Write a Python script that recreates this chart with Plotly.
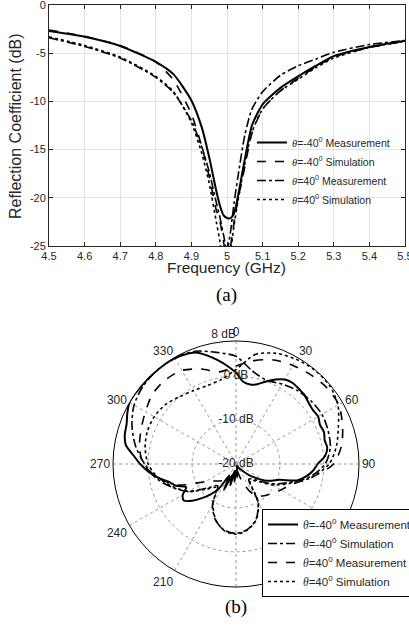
import plotly.graph_objects as go

# ---------------- data: (a) reflection coefficient ----------------
freq_ghz = [4.5, 4.6, 4.7, 4.8, 4.85, 4.9, 4.93, 4.95, 4.97, 4.98, 4.99, 5.0,
            5.01, 5.02, 5.03, 5.05, 5.07, 5.1, 5.15, 5.2, 5.25, 5.3, 5.4, 5.5]
s11_m40_meas = [-2.7, -3.3, -4.25, -5.9, -7.2, -9.9, -12.8, -15.8, -19.3, -20.8, -21.8, -22.1,
                -22.1, -21.6, -20.0, -16.0, -12.5, -10.3, -8.6, -7.4, -6.3, -5.3, -4.35, -3.7]
s11_m40_sim = [-2.6, -3.25, -4.2, -5.9, -7.8, -11.3, -14.8, -17.8, -21.3, -22.4, -24.5, -26.5,
               -25.0, -22.5, -20.3, -16.8, -13.3, -10.8, -8.9, -7.6, -6.4, -5.4, -4.4, -3.75]
s11_p40_meas = [-3.4, -4.3, -5.5, -7.5, -9.1, -12.0, -14.8, -17.3, -20.5, -22.0, -23.8, -25.5,
                -23.5, -20.5, -18.0, -13.5, -10.8, -9.0, -7.3, -6.3, -5.6, -4.9, -4.1, -3.7]
s11_p40_sim = [-3.3, -4.2, -5.4, -7.4, -9.0, -12.2, -15.5, -18.5, -22.5, -24.5, -27.0, -27.0,
               -25.5, -22.8, -20.5, -16.5, -13.2, -10.8, -8.9, -7.7, -6.5, -5.5, -4.4, -3.75]
x_ticks = [4.5, 4.6, 4.7, 4.8, 4.9, 5.0, 5.1, 5.2, 5.3, 5.4, 5.5]
x_ticklabels = ["4.5", "4.6", "4.7", "4.8", "4.9", "5", "5.1", "5.2", "5.3", "5.4", "5.5"]
y_ticks = [-25, -20, -15, -10, -5, 0]
y_ticklabels = ["-25", "-20", "-15", "-10", "-5", "0"]

# ---------------- data: (b) radiation pattern ----------------
theta_5 = list(range(0, 365, 5))
pat_m40_meas = [0.8, -1.2, -1.6, -1.2, 0.0, 1.2, 2.2, 2.5, 2.3, 2.1, 1.6, 1.4, 1.6, 1.1, 1.3, 0.9,
                1.1, 0.3, -1.4, -2.4, -3.8, -5.6, -9.5, -11.0, -12.5, -14.5, -16.0, -17.5, -18.5,
                -19.0, -19.5, -19.5, -19.5, -19.0, -18.5, -17.0, -18.5, -16.0, -18.0, -15.0, -17.0,
                -13.5, -17.0, -13.0, -11.0, -9.0, -7.0, -5.5, -6.0, -7.5, -5.5, -4.2, -2.0, 0.0,
                1.8, 3.5, 5.5, 6.2, 6.5, 7.3, 8.0, 8.0, 7.9, 7.9, 7.9, 7.9, 7.8, 7.5, 7.0, 5.6,
                4.0, 2.4, 0.8]
theta_10 = list(range(0, 370, 10))
pat_m40_sim = [4.5, 1.5, 0.3, 1.0, 1.8, 2.3, 2.6, 2.3, 1.8, 0.3, -3.0, -7.5, -11.0, -14.5, -15.5,
               -10.0, -6.6, -4.9, -4.2, -4.7, -6.4, -9.3, -13.5, -11.5, -7.5, -4.5, -1.5, 0.8,
               3.2, 5.2, 6.8, 7.6, 7.9, 7.9, 7.3, 5.8, 4.5]
pat_p40_meas = [2.3, 3.9, 5.2, 5.9, 6.5, 7.0, 7.0, 5.8, 4.4, 2.2, -2.5, -6.5, -8.2, -9.5, -10.5,
                -12.0, -15.5, -18.5, -19.5, -18.5, -17.0, -16.0, -15.0, -14.0, -12.0, -6.0, -2.0,
                1.1, 2.3, 3.0, 3.8, 4.8, 5.0, 4.6, 3.0, 1.3, 2.3]
pat_p40_sim = [1.5, 5.3, 6.8, 7.5, 7.9, 7.8, 6.8, 4.8, 3.2, 1.2, -2.5, -7.0, -10.5, -14.0, -15.0,
               -9.8, -6.5, -4.8, -4.0, -4.6, -6.5, -9.5, -13.0, -11.0, -7.5, -4.8, -2.0, 0.0,
               1.0, 1.5, 1.5, 1.0, 0.0, -0.7, -1.0, -0.5, 1.5]
ang_ticks = list(range(0, 360, 30))
ang_ticklabels = ["0", "30", "60", "90", "120", "150", "", "210", "240", "270", "300", "330"]
r_ticks = [-20, -10, 0, 8]
r_ticklabels = ["-20 dB", "-10 dB", "0 dB", "8 dB"]

TH = '<i><span style="font-family:Liberation Serif">θ</span></i>'
names_a = [TH + "=-40<sup>0</sup> Measurement", TH + "=-40<sup>0</sup> Simulation",
           TH + "=40<sup>0</sup> Measurement", TH + "=40<sup>0</sup> Simulation"]

W, H = 409, 627
SANS = "Liberation Sans, Arial, sans-serif"
TXT = "#262626"
SERIF = "Liberation Serif, Times New Roman, serif"

fig = go.Figure()

series_a = [(s11_m40_meas, "solid", 2.0), (s11_m40_sim, "dash", 1.6),
            (s11_p40_meas, "dashdot", 1.6), (s11_p40_sim, "dot", 1.6)]
for i, (ys, dash, w) in enumerate(series_a):
    fig.add_trace(go.Scatter(x=freq_ghz, y=ys, mode="lines", name=names_a[i],
                             line=dict(color="black", dash=dash, width=w, shape="spline", smoothing=0.6),
                             legend="legend", legendgroup="a%d" % i))

series_b = [(theta_5, pat_m40_meas, "solid", 2.0), (theta_10, pat_m40_sim, "dashdot", 1.6),
            (theta_10, pat_p40_meas, "dash", 1.6), (theta_10, pat_p40_sim, "dot", 1.6)]
for i, (th, rs, dash, w) in enumerate(series_b):
    fig.add_trace(go.Scatterpolar(theta=th, r=rs, mode="lines", name=names_a[i],
                                  line=dict(color="black", dash=dash, width=w, shape="spline", smoothing=0.8),
                                  subplot="polar", legend="legend2", legendgroup="b%d" % i))

# radial tick labels placed along the 0-degree spoke through the polar scale
fig.add_trace(go.Scatterpolar(theta=[0] * len(r_ticks), r=r_ticks, mode="text", text=r_ticklabels,
                              textposition=["middle center", "middle center", "middle center", "top left"],
                              textfont=dict(size=12, color=TXT, family=SANS),
                              subplot="polar", showlegend=False, hoverinfo="skip"))

fig.update_layout(
    width=W, height=H, margin=dict(l=0, r=0, t=0, b=0, autoexpand=False),
    paper_bgcolor="white", plot_bgcolor="white",
    font=dict(family=SANS, size=11, color=TXT),
    xaxis=dict(domain=[49 / W, 405 / W], range=[4.5, 5.5], tickmode="array",
               tickvals=x_ticks, ticktext=x_ticklabels, showgrid=True, gridcolor="#e3e3e3",
               showline=True, linecolor=TXT, linewidth=1, mirror="ticks", ticks="inside",
               ticklen=4, tickcolor=TXT, zeroline=False, tickfont=dict(size=11),
               ticklabeloverflow="allow", automargin=False),
    yaxis=dict(domain=[1 - 246 / H, 1 - 5 / H], range=[-25, 0], tickmode="array",
               tickvals=y_ticks, ticktext=y_ticklabels, showgrid=True, gridcolor="#e3e3e3",
               showline=True, linecolor=TXT, linewidth=1, mirror="ticks", ticks="inside",
               ticklen=4, tickcolor=TXT, zeroline=False, tickfont=dict(size=11),
               ticklabeloverflow="allow", automargin=False),
    polar=dict(
        domain=dict(x=[113 / W, 359 / W], y=[1 - 587 / H, 1 - 341 / H]),
        bgcolor="white",
        angularaxis=dict(rotation=90, direction="clockwise", tickmode="array",
                         tickvals=ang_ticks, ticktext=ang_ticklabels, showline=True,
                         linecolor="black", linewidth=1, gridcolor="#9a9a9a", griddash="dot",
                         ticks="", tickfont=dict(size=12, color=TXT)),
        radialaxis=dict(range=[-20, 8], tickmode="array", tickvals=r_ticks,
                        showticklabels=False, angle=90,
                        showline=False, gridcolor="#9a9a9a", griddash="dot", ticks=""),
    ),
    legend=dict(x=252 / W, y=1 - 128 / H, xanchor="left", yanchor="top",
                bgcolor="rgba(0,0,0,0)", borderwidth=0, font=dict(size=10.5, color=TXT),
                itemwidth=30, tracegroupgap=0),
    legend2=dict(x=262 / W, y=1 - 509 / H, xanchor="left", yanchor="top",
                 bgcolor="white", bordercolor="black", borderwidth=1,
                 font=dict(size=11.5, color=TXT), itemwidth=30, tracegroupgap=0),
    annotations=[
        dict(text="Frequency (GHz)", x=227 / W, y=1 - 268 / H, xref="paper", yref="paper",
             xanchor="center", yanchor="middle", showarrow=False,
             font=dict(size=15.5, color=TXT, family=SANS)),
        dict(text="Reflection Coefficient (dB)", x=16 / W, y=1 - 126 / H, xref="paper",
             yref="paper", xanchor="center", yanchor="middle", showarrow=False, textangle=-90,
             font=dict(size=16, color=TXT, family=SANS)),
        dict(text="(a)", x=227 / W, y=1 - 295 / H, xref="paper", yref="paper",
             xanchor="center", yanchor="middle", showarrow=False,
             font=dict(size=19, color="black", family=SERIF)),
        dict(text="(b)", x=236 / W, y=1 - 607 / H, xref="paper", yref="paper",
             xanchor="center", yanchor="middle", showarrow=False,
             font=dict(size=19, color="black", family=SERIF)),
    ],
)

fig.write_html("out.html")
